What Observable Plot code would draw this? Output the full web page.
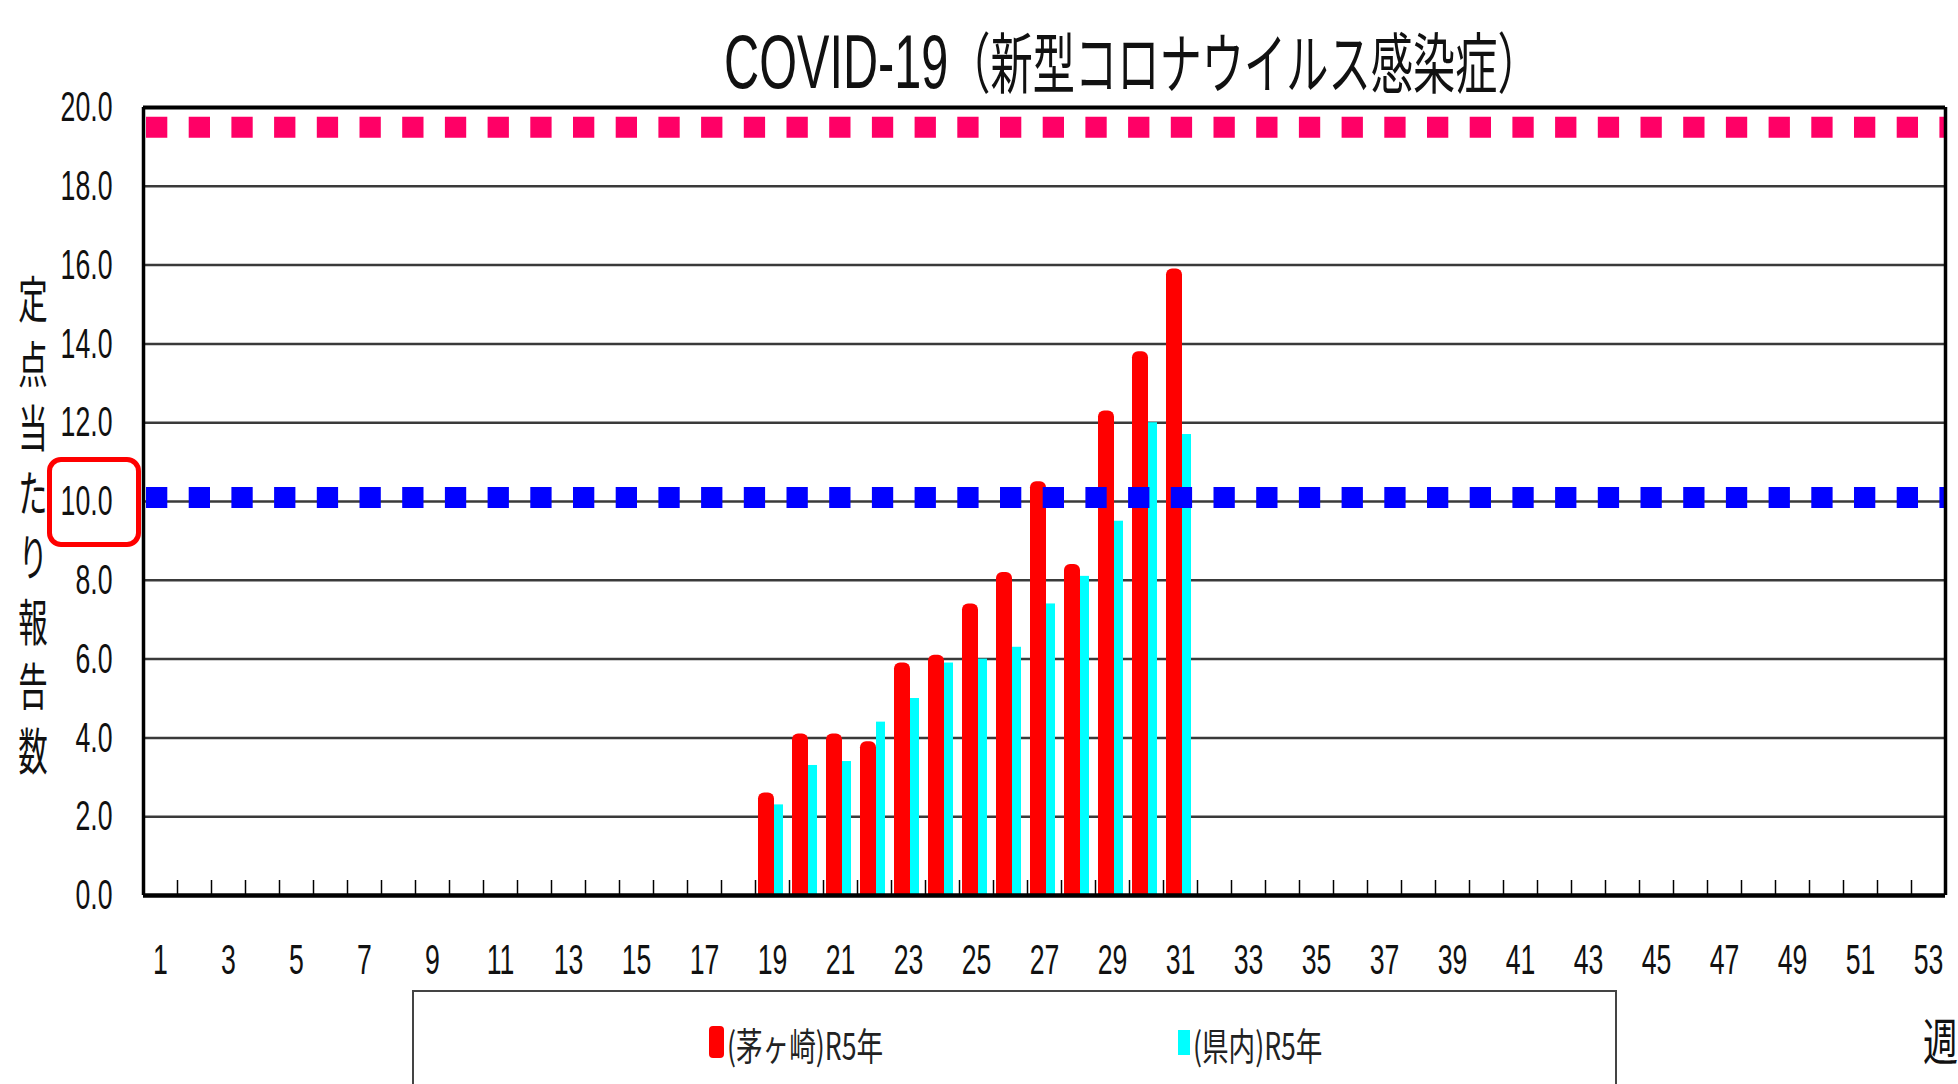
<!DOCTYPE html>
<html>
<head>
<meta charset="utf-8">
<script src="https://cdn.jsdelivr.net/npm/d3@7"></script>
<script src="https://cdn.jsdelivr.net/npm/@observablehq/plot@0.6"></script>
<style>
  html, body { margin: 0; padding: 0; background: #fff; overflow: hidden; width: 1958px; height: 1084px; }
  #wrap { position: relative; width: 1958px; height: 1084px; }
  #wrap svg { position: absolute; left: 0; top: 0; }
  .ov { position: absolute; white-space: nowrap; color: #111; }
  #title { left: 724px; top: 21px; line-height: 76px; transform: scaleX(0.64); transform-origin: left top; }
  #title .lat { font-family: "Liberation Sans", Arial, sans-serif; font-size: 76px; }
  #title .cjk { font-family: "Noto Sans CJK JP", sans-serif; font-size: 66px; }
  #ylabel { left: 8px; top: 274px; width: 50px; line-height: 50px; font-family: "Noto Sans CJK JP", sans-serif;
            font-size: 50px; letter-spacing: 14.5px; writing-mode: vertical-rl; text-orientation: upright;
            transform: scaleX(0.59); transform-origin: center top; }
  #legendbox { position: absolute; left: 412px; top: 990px; width: 1205px; height: 140px; box-sizing: border-box;
               border: 2.5px solid #444; background: #fff; }
  .sw { position: absolute; }
  .lt { font-family: "Noto Sans CJK JP", sans-serif; font-size: 38px; line-height: 38px; transform: scaleX(0.7); transform-origin: left top; color: #222; }
  #week { left: 1923px; top: 1013px; font-family: "Noto Sans CJK JP", sans-serif; font-size: 50px; line-height: 50px; transform: scaleX(0.7); transform-origin: left top; }
  #hl { position: absolute; box-sizing: border-box; border: 5.5px solid #ff0000; border-radius: 14px; }
</style>
</head>
<body>
<div id="wrap"></div>
<script>
// ---- data ----
const weeks = [19, 20, 21, 22, 23, 24, 25, 26, 27, 28, 29, 30, 31];
const chigasakiR5 = [2.6, 4.1, 4.1, 3.9, 5.9, 6.1, 7.4, 8.2, 10.5, 8.4, 12.3, 13.8, 15.9];
const kennaiR5    = [2.3, 3.3, 3.4, 4.4, 5.0, 5.9, 6.0, 6.3, 7.4, 8.1, 9.5, 12.0, 11.7];
const thresholdPink = 19.5;
const thresholdBlue = 10.1;
const yTicks = [0, 2, 4, 6, 8, 10, 12, 14, 16, 18, 20];
const xTickLabels = [1, 3, 5, 7, 9, 11, 13, 15, 17, 19, 21, 23, 25, 27, 29, 31, 33, 35, 37, 39, 41, 43, 45, 47, 49, 51, 53];
const weekRange = [1, 53];
const titleLatin = "COVID-19";
const titleCJK = "（新型コロナウイルス感染症）";
const yLabel = "定点当たり報告数";
const seriesNames = ["(茅ヶ崎)R5年", "(県内)R5年"];
const xUnit = "週";

const data = weeks.map((w, i) => ({week: w, chigasaki: chigasakiR5[i], kennai: kennaiR5[i]}));
const boundaries = d3.range(weekRange[0] - 0.5, weekRange[1] + 1, 1);

const W = 1958, H = 1084, mL = 143, mR = 13, mT = 107, mB = 189;
const frameH = H - mT - mB;

const plot = Plot.plot({
  width: W, height: H,
  marginLeft: mL, marginRight: mR, marginTop: mT, marginBottom: mB,
  style: {background: "#fff", fontFamily: "'Liberation Sans', Arial, sans-serif", fontSize: "43px", color: "#111", overflow: "visible"},
  x: {domain: [weekRange[0] - 0.5, weekRange[1] + 0.5], ticks: xTickLabels, tickFormat: d => String(d), tickSize: 0, tickPadding: 48, label: null},
  y: {domain: [0, 20], ticks: yTicks, tickFormat: d3.format(".1f"), tickSize: 0, tickPadding: 31, label: null},
  marks: [
    Plot.ruleY(yTicks.filter(d => d > 0 && d < 20), {stroke: "#3a3a3a", strokeWidth: 2.5}),
    Plot.rect(data, {x1: d => d.week - 0.5, x2: d => d.week + 0.5, y1: 0, y2: "kennai",
                     insetLeft: 19, insetRight: 6, fill: "#00FFFF"}),
    Plot.rect(data, {x1: d => d.week - 0.5, x2: d => d.week + 0.5, y1: 0, y2: "chigasaki",
                     insetLeft: 3, insetRight: 15, fill: "#FF0000", rx: 6}),
    Plot.rect(data, {x1: d => d.week - 0.5, x2: d => d.week + 0.5, y1: 0, y2: "chigasaki",
                     insetLeft: 3, insetRight: 15, insetTop: 8, fill: "#FF0000"}),
    Plot.ruleY([thresholdBlue], {stroke: "#0000FF", strokeWidth: 21, strokeDasharray: "21.3,21.4", strokeDashoffset: 39.7}),
    Plot.ruleY([thresholdPink], {stroke: "#FF0066", strokeWidth: 21, strokeDasharray: "21.3,21.4", strokeDashoffset: 39.7}),
    Plot.ruleX(boundaries, {stroke: "#000", strokeWidth: 1.5, insetTop: frameH - 15}),
    Plot.ruleY([20], {stroke: "#000", strokeWidth: 4}),
    Plot.ruleY([0], {stroke: "#000", strokeWidth: 4.5}),
    Plot.ruleX([weekRange[0] - 0.5, weekRange[1] + 0.5], {stroke: "#000", strokeWidth: 3.5})
  ]
});

// condense the tick labels horizontally, like the reference's narrow lettering
const sx = 0.62;
d3.select(plot).selectAll("text").each(function() {
  let t = this.getAttribute("transform") || "";
  const xa = this.getAttribute("x");
  if (xa != null && !isNaN(+xa)) { t += ` translate(${+xa},0)`; this.removeAttribute("x"); }
  this.setAttribute("transform", `${t} scale(${sx},1)`);
});

const wrap = document.getElementById("wrap");
wrap.appendChild(plot);

function addDiv(id, cls, html, style) {
  const d = document.createElement("div");
  if (id) d.id = id;
  d.className = cls;
  d.innerHTML = html;
  if (style) Object.assign(d.style, style);
  wrap.appendChild(d);
  return d;
}

addDiv("title", "ov", `<span class="lat">${titleLatin}</span><span class="cjk">${titleCJK}</span>`);
addDiv("ylabel", "ov", yLabel);

const lb = document.createElement("div");
lb.id = "legendbox";
wrap.appendChild(lb);
addDiv(null, "sw", "", {left: "709px", top: "1026px", width: "15px", height: "32px", background: "#FF0000", borderRadius: "4px"});
addDiv(null, "ov lt", seriesNames[0], {left: "727px", top: "1025px"});
addDiv(null, "sw", "", {left: "1178px", top: "1030px", width: "12px", height: "25px", background: "#00FFFF"});
addDiv(null, "ov lt", seriesNames[1], {left: "1193px", top: "1025px"});
addDiv("week", "ov", xUnit);

// highlight box around the 10.0 tick label, placed via the y scale
const y10 = plot.scale("y").apply(10);
addDiv("hl", "", "", {left: "47px", top: (y10 - 44) + "px", width: "94px", height: "90px"});
</script>
</body>
</html>
